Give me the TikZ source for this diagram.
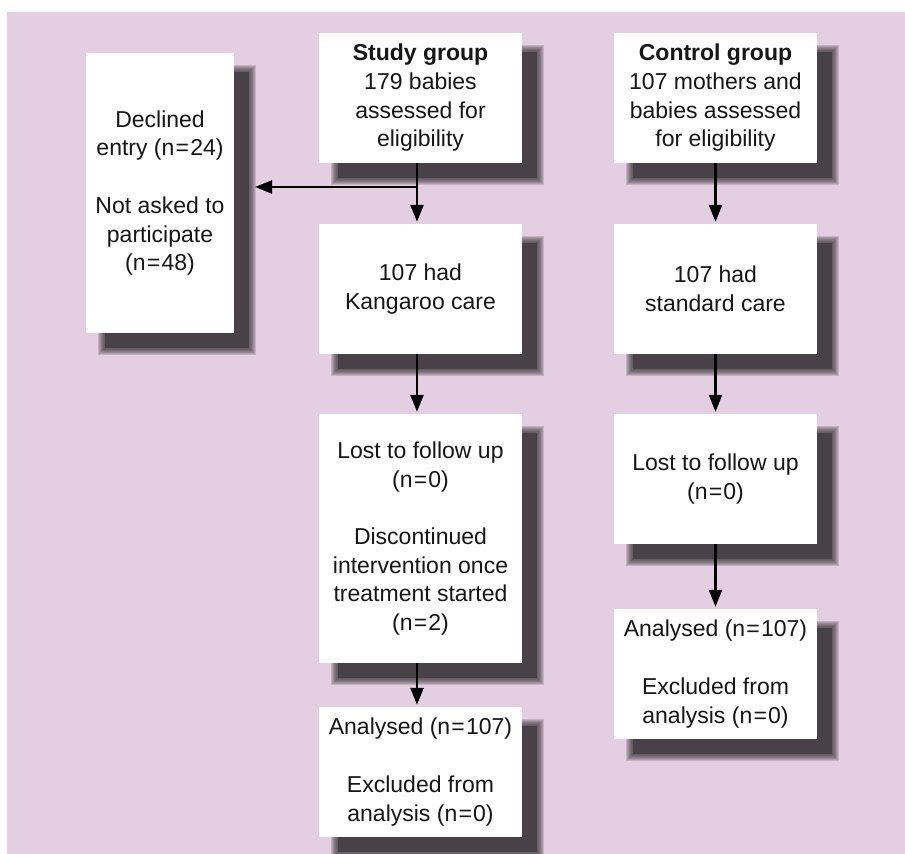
\documentclass[tikz,border=0pt]{standalone}
\usepackage{fontspec}
\setmainfont{Liberation Sans}
\usetikzlibrary{arrows.meta}
\definecolor{lav}{RGB}{227,207,225}
\definecolor{shad}{RGB}{72,65,71}
\definecolor{ink}{RGB}{22,22,22}
\pgfdeclarelayer{background}
\pgfsetlayers{background,main}
\newcommand\eqs{\kern1.2pt=\kern1.2pt}
\newcommand\shadowof[1]{%
  \fill[shad] ([shift={(19,19)}]#1.north west) rectangle ([shift={(15,15)}]#1.south east);%
  \foreach \r in {5,4,...,-1}{%
    \fill[shad, opacity=0.2] ([shift={(17-\r,17-\r)}]#1.north west) rectangle ([shift={(17+\r,17+\r)}]#1.south east);}}
\tikzset{
  box/.style={fill=white, draw=none, inner sep=0pt, align=center, text=ink,
    minimum width=203pt, minimum height=130pt,
    font=\fontsize{23}{28.7}\selectfont},
  arr/.style={draw=black, line width=2.6pt, -{Triangle[width=13pt,length=17pt]}, shorten >=2pt}
}
\begin{document}
\begin{tikzpicture}[x=1pt,y=-1pt]
\useasboundingbox (0,0) rectangle (905,854);
\begin{pgfonlayer}{background}
\fill[lav] (7,12) rectangle (905,854);
\end{pgfonlayer}

\node[box, minimum width=148pt, minimum height=280pt] (dec) at (160,193)
  {Declined\\entry (n\eqs24)\\[28.7pt]Not asked to\\participate\\(n\eqs48)};

\node[box] (s1) at (420.5,98) {\textbf{Study group}\\179 babies\\assessed for\\eligibility};
\node[box] (c1) at (715.5,98) {\textbf{Control group}\\107 mothers and\\babies assessed\\for eligibility};

\node[box] (s2) at (420.5,289) {107 had\\Kangaroo care};
\node[box] (c2) at (715.5,289) {107 had\\standard care};

\node[box, minimum height=249pt] (s3) at (420.5,538.5)
  {Lost to follow up\\(n\eqs0)\\[28.7pt]Discontinued\\intervention once\\treatment started\\(n\eqs2)};
\node[box] (c3) at (715.5,479) {Lost to follow up\\(n\eqs0)};

\node[box] (s4) at (420.5,772) {Analysed (n\eqs107)\\[28.7pt]Excluded from\\analysis (n\eqs0)};
\node[box] (c4) at (715.5,674) {Analysed (n\eqs107)\\[28.7pt]Excluded from\\analysis (n\eqs0)};

\begin{pgfonlayer}{background}
\shadowof{dec}
\shadowof{s1}\shadowof{c1}
\shadowof{s2}\shadowof{c2}
\shadowof{s3}\shadowof{c3}
\shadowof{s4}\shadowof{c4}
\end{pgfonlayer}

\coordinate (br) at ([xshift=-3.5pt]s1.south |- 0,187);
\coordinate (dtip) at (255,187);

\draw[arr] ([xshift=-3.5pt]s1.south) -- ([xshift=-3.5pt]s2.north);
\draw[arr] ([xshift=-3.5pt]s2.south) -- ([xshift=-3.5pt]s3.north);
\draw[arr] ([xshift=-3.5pt]s3.south) -- ([xshift=-3.5pt]s4.north);
\draw[arr] (c1.south) -- (c2.north);
\draw[arr] (c2.south) -- (c3.north);
\draw[arr] (c3.south) -- (c4.north);
\draw[arr, shorten >=0pt] (br) -- (dtip);
\end{tikzpicture}
\end{document}
